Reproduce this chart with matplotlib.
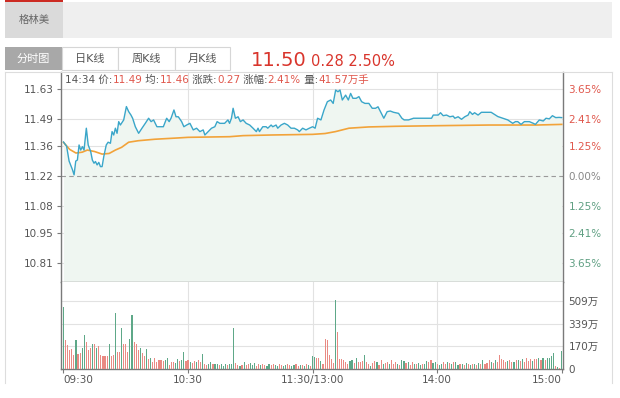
import numpy as np
import matplotlib.pyplot as plt
from matplotlib.patches import Rectangle
from matplotlib.lines import Line2D

plt.rcParams['font.family'] = ['DejaVu Sans', 'Noto Sans CJK SC']

W, H = 620, 398

# ---------------- 数据 ----------------
stock_name = '格林美'
tabs = ['分时图', '日K线', '周K线', '月K线']
last_price = '11.50'
change_text = '0.28 2.50%'
info_pieces = [('14:34 价:', 'k'), ('11.49', 'r'), (' 均:', 'k'), ('11.46', 'r'),
               (' 涨跌:', 'k'), ('0.27', 'r'), (' 涨幅:', 'k'), ('2.41%', 'r'),
               (' 量:', 'k'), ('41.57万手', 'r')]

pre_close = 11.22
price_ticks = [11.63, 11.49, 11.36, 11.22, 11.08, 10.95, 10.81]
price_labels = ['11.63', '11.49', '11.36', '11.22', '11.08', '10.95', '10.81']
pct_labels = ['3.65%', '2.41%', '1.25%', '0.00%', '1.25%', '2.41%', '3.65%']
pct_colors = ['up', 'up', 'up', 'flat', 'down', 'down', 'down']

time_ticks = [0, 60, 120, 180, 240]
time_labels = ['09:30', '10:30', '11:30/13:00', '14:00', '15:00']

vol_ticks = [0, 170, 339, 509]
vol_labels = ['0', '170万', '339万', '509万']

# 分时价格 (分钟, 价格)
price_min = [0, 1.5, 2.7, 4.3, 5.1, 5.9, 6.7, 7.5, 8.3, 9.1, 9.9, 11.0, 11.9, 13.1, 13.9, 14.7,
             15.4, 16.2, 17.0, 17.8, 18.6, 19.4, 20.6, 21.5, 22.6, 23.4, 24.2, 25.0, 25.8, 26.6,
             27.4, 29.0, 30.3, 31.4, 32.5, 33.3, 34.6, 36.2, 37.8, 39.4, 41.0, 42.2, 43.4, 45.0,
             46.5, 48.1, 49.7, 50.9, 51.8, 53.2, 54.2, 55.3, 56.9, 58.0, 59.3, 60.9, 62.5, 64.1,
             65.7, 67.3, 68.1, 69.7, 71.3, 72.9, 74.0, 75.3, 77.6, 79.2, 80.0, 80.9, 81.7, 82.8,
             84.1, 85.2, 86.5, 88.0, 89.7, 91.3, 92.9, 93.7, 94.4, 96.0, 97.6, 98.4, 100.0,
             100.8, 102.4, 103.2, 104.8, 106.4, 108.0, 109.6, 111.2, 112.8, 113.6, 115.2, 116.8,
             118.4, 120.0, 121.2, 122.4, 124.0, 125.5, 127.1, 128.7, 129.9, 131.1, 132.2, 133.2,
             134.3, 135.9, 137.2, 138.3, 139.4, 141.0, 142.3, 143.6, 145.2, 147.1, 148.7, 150.3,
             151.5, 152.7, 154.3, 155.9, 157.4, 159.0, 161.4, 163.0, 164.1, 166.2, 168.6, 171.8,
             175.0, 177.3, 178.1, 180.5, 181.6, 182.9, 184.5, 186.1, 187.7, 188.5, 190.1, 191.7,
             193.3, 194.9, 195.7, 197.0, 198.0, 199.7, 201.3, 203.7, 206.0, 207.6, 209.2, 211.6,
             214.0, 216.4, 217.7, 218.8, 220.4, 222.0, 224.4, 226.3, 227.3, 229.2, 231.1, 232.4,
             234.0, 235.5, 237.1, 238.7, 240.0]
price_val = [11.38, 11.36, 11.29, 11.25, 11.225, 11.29, 11.295, 11.366, 11.342, 11.358, 11.342,
             11.445, 11.366, 11.335, 11.295, 11.28, 11.288, 11.272, 11.284, 11.264, 11.264, 11.311,
             11.366, 11.379, 11.374, 11.429, 11.413, 11.445, 11.421, 11.476, 11.46, 11.484, 11.547,
             11.523, 11.507, 11.492, 11.452, 11.421, 11.445, 11.468, 11.492, 11.476, 11.484, 11.452,
             11.452, 11.452, 11.492, 11.476, 11.492, 11.531, 11.499, 11.499, 11.476, 11.452, 11.46,
             11.468, 11.437, 11.445, 11.429, 11.437, 11.413, 11.429, 11.445, 11.452, 11.476, 11.468,
             11.468, 11.484, 11.468, 11.492, 11.539, 11.492, 11.499, 11.476, 11.484, 11.468, 11.46,
             11.445, 11.429, 11.445, 11.429, 11.452, 11.452, 11.445, 11.46, 11.452, 11.46, 11.445,
             11.46, 11.468, 11.46, 11.445, 11.445, 11.437, 11.429, 11.445, 11.437, 11.445, 11.452,
             11.445, 11.492, 11.484, 11.531, 11.57, 11.578, 11.562, 11.625, 11.617, 11.625, 11.578,
             11.601, 11.578, 11.609, 11.586, 11.586, 11.594, 11.57, 11.562, 11.562, 11.539, 11.539,
             11.546, 11.523, 11.492, 11.523, 11.526, 11.52, 11.515, 11.492, 11.484, 11.484, 11.492,
             11.492, 11.492, 11.492, 11.507, 11.507, 11.518, 11.504, 11.507, 11.499, 11.502, 11.492,
             11.499, 11.487, 11.499, 11.507, 11.523, 11.51, 11.518, 11.507, 11.52, 11.52, 11.52,
             11.51, 11.5, 11.492, 11.484, 11.468, 11.476, 11.476, 11.463, 11.476, 11.476, 11.468,
             11.463, 11.484, 11.479, 11.492, 11.489, 11.504, 11.495, 11.496, 11.495]

# 均价 (分钟, 价格)
avg_min = [0, 3, 6, 9, 11.5, 15, 18.6, 22, 25, 28, 31.4, 36, 44, 55, 60, 80, 86.5, 100, 120,
           126, 131, 137.5, 147, 160, 181, 205, 228, 240]
avg_val = [11.378, 11.345, 11.328, 11.332, 11.342, 11.335, 11.323, 11.326, 11.342, 11.355,
           11.379, 11.386, 11.393, 11.399, 11.402, 11.405, 11.41, 11.413, 11.416, 11.42, 11.429,
           11.445, 11.451, 11.454, 11.457, 11.46, 11.46, 11.463]

# 成交量 (万), 每分钟一根; 上午 09:30-11:29, 下午 13:00-15:00
vol_am = [467, 217, 180, 140, 150, 105, 217, 110, 120, 155, 258, 205, 140, 155, 190, 185, 160, 175,
          105, 100, 100, 100, 190, 100, 105, 417, 130, 130, 305, 190, 185, 130, 225, 405, 205, 185,
          145, 160, 120, 95, 150, 75, 85, 55, 80, 55, 70, 65, 60, 70, 85, 30, 55, 50, 45, 75, 60,
          70, 125, 60, 70, 50, 45, 60, 55, 65, 50, 115, 40, 30, 35, 50, 35, 40, 35, 30, 35, 25, 40,
          30, 35, 40, 305, 45, 30, 25, 30, 55, 30, 35, 45, 30, 45, 25, 35, 30, 40, 30, 25, 35, 30,
          35, 30, 25, 35, 30, 25, 30, 35, 30, 25, 30, 35, 25, 30, 30, 25, 35, 30, 25]
dir_am = ('grrrrrgrrggrrrgrgr' 'rrrrgrrgrrgrrrggrr' 'rgrrgrgrrrrrrggrrrggr'
          'ggrrgrrgrrgrrggrggrggg' 'rgggrrgrgrrgggrrgrrggr' 'rggrrggrrggrrgrgrgr')
vol_pm = [95, 90, 85, 80, 60, 35, 222, 217, 105, 75, 45, 517, 280, 75, 75, 70, 55, 35, 60, 70, 45,
          80, 55, 50, 60, 105, 50, 40, 25, 45, 60, 55, 30, 65, 40, 45, 55, 40, 70, 35, 55,
          40, 30, 70, 60, 45, 50, 30, 55, 40, 35, 45, 30, 35, 40, 60, 55, 65, 45, 55, 40,
          30, 35, 55, 40, 50, 45, 35, 55, 50, 30, 35, 40, 30, 45, 35, 30, 40, 35, 30, 45,
          35, 65, 40, 45, 70, 55, 45, 65, 50, 105, 75, 70, 55, 60, 70, 55, 50, 65, 70, 60,
          75, 55, 80, 60, 75, 60, 75, 75, 80, 65, 80, 70, 85, 85, 95, 122, 20, 15, 10, 135]
dir_pm = ('ggrrgrrrrrrgrrrrrrggr' 'grrrgrrgrrgrrgrrgrrr' 'grggrgrrgrggrggrrggr'
          'ggrrgrgrggrgrgrgrgrg' 'rgrrrgrgrrrrrgrrgrgr' 'grrrrgrrgrgrggggrgrg')

# ---------------- 画图 ----------------
RED = '#d9352c'
TXT_RED = '#e0574c'
GREEN_TXT = '#5f9f82'
GREY_TXT = '#555555'
BAR_RED = '#e98a83'
BAR_GREEN = '#5ea888'
LINE_BLUE = '#3aa6c9'
AVG_ORANGE = '#f2a33a'
FILL = '#eff6f1'
GRID = '#e2e2e2'
SPINE = '#7a7a7a'
XMIN, XMAX = -1.2, 240.6


def fx(x):
    return x / W


def fy(y):
    return 1 - y / H


def rect(x0, y0, x1, y1, **kw):
    fig.add_artist(Rectangle((fx(x0), fy(y1)), fx(x1) - fx(x0), fy(y0) - fy(y1),
                             transform=fig.transFigure, **kw))


fig = plt.figure(figsize=(W / 100, H / 100), dpi=100)
fig.patch.set_facecolor('white')

# 顶部标签栏
rect(5, 2, 612, 38, facecolor='#efefef', edgecolor='none')
rect(5, 2, 63, 38, facecolor='#dadada', edgecolor='none')
rect(5, 0, 63, 2, facecolor='#cc2a22', edgecolor='none')
fig.text(fx(34), fy(20), stock_name, ha='center', va='center', fontsize=7.5, color='#666666')

# 分时/K线 按钮
tab_x = [5, 62, 118, 175, 230]
for i, name in enumerate(tabs):
    if i == 0:
        rect(tab_x[i], 47, tab_x[i + 1], 70, facecolor='#a8a8a8', edgecolor='none')
        c = 'white'
    else:
        rect(tab_x[i], 47, tab_x[i + 1], 70, facecolor='white', edgecolor='#d6d6d6', linewidth=0.8)
        c = GREY_TXT
    fig.text(fx((tab_x[i] + tab_x[i + 1]) / 2), fy(59), name, ha='center', va='center',
             fontsize=8, color=c)

fig.text(fx(251), fy(60), last_price, ha='left', va='center', fontsize=14, color=RED)
fig.text(fx(311), fy(61), change_text, ha='left', va='center', fontsize=10.5, color=RED)

# 外框
for (x0, y0, x1, y1) in [(5, 72, 612, 72), (5, 72, 5, 383), (612, 72, 612, 383)]:
    fig.add_artist(Line2D([fx(x0), fx(x1)], [fy(y0), fy(y1)], transform=fig.transFigure,
                          color='#dddddd', lw=0.8))

# 价格区
ax = fig.add_axes([fx(61), fy(282), fx(563) - fx(61), fy(72) - fy(282)])
ax_v = fig.add_axes([fx(61), fy(369), fx(563) - fx(61), fy(282) - fy(369)])

ymin, ymax = 10.72, 11.71
ax.fill_between(price_min, price_val, ymin, color=FILL, lw=0, zorder=1)
for t in price_ticks:
    if t != pre_close:
        ax.axhline(t, color=GRID, lw=0.8, zorder=0)
ax.axhline(pre_close, color='#9a9a9a', lw=0.8, ls=(0, (4, 3)), zorder=2)
for t in time_ticks[1:-1]:
    ax.axvline(t, color=GRID, lw=0.8, zorder=0)
    ax_v.axvline(t, color=GRID, lw=0.8, zorder=0)

ax.plot(price_min, price_val, color=LINE_BLUE, lw=1.0, zorder=4)
ax.plot(avg_min, avg_val, color=AVG_ORANGE, lw=1.2, zorder=3)

ax.set_xlim(XMIN, XMAX)
ax.set_ylim(ymin, ymax)
ax.set_yticks(price_ticks)
ax.set_yticklabels(price_labels)
ax.set_xticks([])
ax.tick_params(axis='y', length=3, width=0.8, color=SPINE, labelsize=7.5, labelcolor=GREY_TXT, pad=2)
ax.spines['top'].set_visible(False)
for s in ['left', 'right', 'bottom']:
    ax.spines[s].set_color(SPINE)
    ax.spines[s].set_linewidth(1.0)

ax_r = ax.twinx()
ax_r.set_ylim(ymin, ymax)
ax_r.set_yticks(price_ticks)
ax_r.set_yticklabels(pct_labels)
ax_r.tick_params(axis='y', length=0, labelsize=7.5, pad=4)
cmap = {'up': TXT_RED, 'flat': '#888888', 'down': GREEN_TXT}
for lab, d in zip(ax_r.get_yticklabels(), pct_colors):
    lab.set_color(cmap[d])
for s in ax_r.spines.values():
    s.set_visible(False)

# 信息行
renderer = fig.canvas.get_renderer()
x_cur = fx(65)
for s, c in info_pieces:
    t = fig.text(x_cur, fy(80), s, ha='left', va='center', fontsize=7.5,
                 color=GREY_TXT if c == 'k' else TXT_RED)
    bb = t.get_window_extent(renderer=renderer)
    x_cur += bb.width / W

# 成交量
volume = vol_am + vol_pm
vol_dir = dir_am + dir_pm
minutes = np.arange(len(volume))
bar_colors = [BAR_RED if d == 'r' else BAR_GREEN for d in vol_dir]
ax_v.bar(minutes, volume, width=0.55, color=bar_colors, linewidth=0, zorder=3)
for t in vol_ticks[1:]:
    ax_v.axhline(t, color=GRID, lw=0.8, zorder=0)
ax_v.set_xlim(XMIN, XMAX)
ax_v.set_ylim(0, 652)
ax_v.yaxis.tick_right()
ax_v.set_yticks(vol_ticks)
ax_v.set_yticklabels(vol_labels)
ax_v.tick_params(axis='y', length=0, labelsize=7.5, labelcolor=GREY_TXT, pad=4)
ax_v.set_xticks(time_ticks)
ax_v.set_xticklabels(time_labels)
ax_v.tick_params(axis='x', length=3, width=0.8, color=SPINE, labelsize=7.5, labelcolor=GREY_TXT, pad=1)
xl = ax_v.get_xticklabels()
xl[0].set_ha('left')
xl[-1].set_ha('right')
ax_v.spines['top'].set_visible(False)
for s in ['left', 'right', 'bottom']:
    ax_v.spines[s].set_color(SPINE)
    ax_v.spines[s].set_linewidth(1.0)

fig.savefig('out.png', dpi=100)
